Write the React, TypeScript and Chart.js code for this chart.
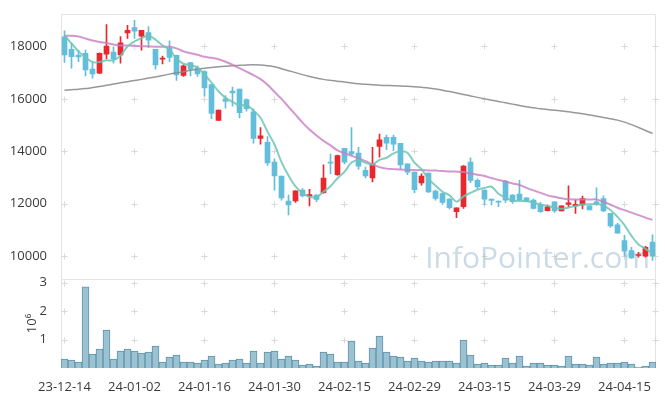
import React, { useEffect, useRef } from 'react';
import { Chart, registerables } from 'chart.js';

Chart.register(...registerables);

const dates = [
  '23-12-14', '23-12-15', '23-12-18', '23-12-19', '23-12-20', '23-12-21', '23-12-22', '23-12-26', '23-12-27', '23-12-28',
  '24-01-02', '24-01-03', '24-01-04', '24-01-05', '24-01-08', '24-01-09', '24-01-10', '24-01-11', '24-01-12', '24-01-15',
  '24-01-16', '24-01-17', '24-01-18', '24-01-19', '24-01-22', '24-01-23', '24-01-24', '24-01-25', '24-01-26', '24-01-29',
  '24-01-30', '24-01-31', '24-02-01', '24-02-02', '24-02-05', '24-02-06', '24-02-07', '24-02-08', '24-02-13', '24-02-14',
  '24-02-15', '24-02-16', '24-02-19', '24-02-20', '24-02-21', '24-02-22', '24-02-23', '24-02-26', '24-02-27', '24-02-28',
  '24-02-29', '24-03-04', '24-03-05', '24-03-06', '24-03-07', '24-03-08', '24-03-11', '24-03-12', '24-03-13', '24-03-14',
  '24-03-15', '24-03-18', '24-03-19', '24-03-20', '24-03-21', '24-03-22', '24-03-25', '24-03-26', '24-03-27', '24-03-28',
  '24-03-29', '24-04-01', '24-04-02', '24-04-03', '24-04-04', '24-04-05', '24-04-08', '24-04-09', '24-04-11', '24-04-12',
  '24-04-15', '24-04-16', '24-04-17', '24-04-18', '24-04-19',
];

const opens = [
  18367, 17888, 17673, 17736, 17133, 16980, 17710, 17786, 17673, 18517,
  18718, 18391, 18529, 17888, 17510, 17925, 17661, 16893, 17385, 17170,
  17045, 16541, 15182, 16000, 16302, 16377, 15975, 15510, 14491, 14340,
  13585, 13057, 12102, 12113, 12517, 12290, 12328, 12427, 13585, 13106,
  14113, 13987, 13937, 13271, 12981, 14189, 14529, 14529, 14302, 13522,
  13208, 12793, 13170, 12480, 12390, 12176, 11698, 11887, 13585, 12893,
  12517, 12176, 12101, 12868, 12329, 12366, 12227, 12139, 11974, 11736,
  12076, 11723, 11975, 11913, 11951, 11925, 12076, 12200, 11635, 11196,
  10591, 10214, 10025, 10000, 10541,
];

const highs = [
  18594, 18114, 17862, 17862, 17423, 17760, 18831, 17988, 18378, 18806,
  18994, 18617, 18755, 17888, 17636, 18215, 17673, 17296, 17385, 17258,
  17083, 16541, 15572, 16125, 16453, 16377, 16000, 15623, 14906, 14566,
  13710, 13057, 12329, 12491, 12578, 12555, 12351, 13484, 13899, 13861,
  14113, 14906, 14151, 13397, 14151, 14654, 14616, 14616, 14302, 13522,
  13208, 13144, 13170, 12517, 12415, 12201, 11849, 13459, 13748, 12955,
  12517, 12176, 12101, 12893, 12351, 12893, 12227, 12176, 12050, 11950,
  12076, 11925, 12680, 12139, 12290, 11925, 12604, 12302, 11635, 11258,
  10793, 10340, 10151, 10377, 10818,
];

const lows = [
  17386, 17170, 17423, 16880, 16793, 16960, 17535, 17359, 17359, 18303,
  18303, 17862, 17963, 17133, 17334, 17423, 16705, 16855, 16880, 16855,
  16102, 15246, 15182, 15648, 15723, 15270, 15535, 14315, 14277, 13459,
  12517, 12139, 11574, 12050, 12264, 11913, 12076, 12390, 13144, 13080,
  13522, 13861, 13309, 12981, 12830, 13774, 14063, 14025, 13309, 13107,
  12427, 12706, 12427, 12139, 11974, 11799, 11472, 11823, 12805, 12578,
  11951, 11951, 11887, 12050, 12012, 12101, 12101, 11799, 11673, 11723,
  11673, 11723, 11887, 11635, 11800, 11761, 11950, 11698, 11094, 10879,
  10000, 9912, 9962, 9962, 9838,
];

const closes = [
  17673, 17612, 17598, 17107, 16955, 17736, 18012, 17510, 18139, 18617,
  18580, 18617, 18240, 17296, 17560, 17586, 16918, 17258, 17133, 16955,
  16416, 15446, 15572, 15899, 16226, 15472, 15623, 14491, 14591, 13559,
  13057, 12227, 11951, 12491, 12302, 12350, 12162, 12981, 13547, 13836,
  13585, 13899, 13434, 13057, 13522, 14441, 14315, 14277, 13484, 13208,
  12540, 13057, 12453, 12201, 12050, 11849, 11849, 13434, 12893, 12642,
  12176, 12126, 12064, 12139, 12076, 12139, 12101, 11823, 11698, 11887,
  11723, 11925, 12038, 11975, 12202, 11761, 11975, 11723, 11159, 10879,
  10189, 9937, 10063, 10340, 10000,
];

const volumes = [
  315000, 280000, 210000, 2850000, 490000, 665000, 1330000, 315000, 595000, 665000,
  595000, 525000, 560000, 770000, 210000, 385000, 455000, 210000, 210000, 175000,
  280000, 420000, 140000, 175000, 280000, 315000, 175000, 595000, 175000, 560000,
  595000, 315000, 420000, 280000, 105000, 140000, 70000, 560000, 490000, 210000,
  210000, 945000, 245000, 175000, 700000, 1120000, 560000, 420000, 385000, 245000,
  350000, 245000, 210000, 245000, 245000, 245000, 175000, 980000, 455000, 140000,
  175000, 105000, 105000, 350000, 175000, 420000, 70000, 175000, 175000, 105000,
  105000, 70000, 420000, 140000, 140000, 105000, 385000, 140000, 175000, 175000,
  210000, 140000, 35000, 70000, 210000,
];

const ma5 = [
  18415, 18114, 17812, 17586, 17400, 17405, 17470, 17468, 17650, 18000,
  18190, 18310, 18420, 18260, 18040, 17880, 17540, 17340, 17290, 17190,
  16930, 16620, 16290, 16040, 15890, 15740, 15770, 15550, 15280, 14750,
  14260, 13590, 13080, 12660, 12410, 12265, 12250, 12455, 12670, 12975,
  13220, 13570, 13660, 13560, 13500, 13670, 13755, 13920, 14005, 13945,
  13565, 13315, 12950, 12690, 12460, 12320, 12080, 12280, 12415, 12535,
  12600, 12650, 12380, 12230, 12120, 12110, 12100, 12055, 11965, 11930,
  11845, 11810, 11855, 11910, 11970, 11980, 11990, 11925, 11765, 11500,
  11185, 10775, 10445, 10280, 10105,
];

const ma20 = [
  18404, 18404, 18378, 18303, 18227, 18170, 18133, 18076, 18038, 18038,
  18027, 18008, 18000, 17989, 17989, 17989, 17925, 17812, 17737, 17680,
  17604, 17567, 17510, 17416, 17303, 17170, 17038, 16906, 16755, 16540,
  16265, 16000, 15698, 15397, 15095, 14830, 14604, 14397, 14227, 14038,
  13925, 13830, 13736, 13623, 13491, 13397, 13340, 13321, 13302, 13295,
  13283, 13283, 13272, 13264, 13245, 13234, 13227, 13208, 13151, 13106,
  13057, 12981, 12906, 12849, 12774, 12717, 12604, 12510, 12415, 12321,
  12264, 12208, 12170, 12163, 12163, 12163, 12163, 12076, 11962, 11849,
  11755, 11660, 11566, 11472, 11385,
];

const ma60 = [
  16329, 16348, 16367, 16393, 16431, 16469, 16518, 16567, 16612, 16657,
  16699, 16744, 16793, 16838, 16888, 16944, 16993, 17038, 17095, 17133,
  17170, 17201, 17223, 17246, 17265, 17284, 17295, 17299, 17291, 17265,
  17227, 17152, 17076, 17001, 16925, 16857, 16793, 16744, 16706, 16672,
  16642, 16604, 16574, 16555, 16536, 16521, 16510, 16502, 16495, 16484,
  16465, 16442, 16416, 16378, 16329, 16280, 16227, 16167, 16114, 16057,
  16000, 15951, 15902, 15850, 15800, 15751, 15698, 15661, 15623, 15593,
  15567, 15540, 15510, 15472, 15434, 15385, 15340, 15291, 15246, 15189,
  15114, 15019, 14906, 14793, 14680,
];

const priceTicks = [10000, 12000, 14000, 16000, 18000];
const volumeTicks = [1000000, 2000000, 3000000];
const xTickStep = 10;

const UP = '#e8282d';
const DOWN = '#63bedb';
const TEXT = '#3a3a3a';
const FONT = '"Open Sans", "DejaVu Sans", sans-serif';

export default function App() {
  const canvasRef = useRef<HTMLCanvasElement | null>(null);

  useEffect(() => {
    const canvas = canvasRef.current;
    if (!canvas) return;
    const candleColors = opens.map((o, i) => (closes[i] >= o ? UP : DOWN));
    const bodies = opens.map((o, i) => [o, closes[i]]);
    const wicks = lows.map((l, i) => [l, highs[i]]);

    const decor = {
      id: 'decor',
      beforeDatasetsDraw(chart: any) {
        const { ctx } = chart;
        const xs = chart.scales.x;
        const yp = chart.scales.y;
        const yv = chart.scales.yv;
        ctx.save();
        // frame
        ctx.strokeStyle = '#e4e4e4';
        ctx.lineWidth = 1;
        const L = Math.round(xs.left) + 0.5;
        const R = Math.round(xs.right) - 0.5;
        const T = Math.round(yp.top) + 0.5;
        const M = Math.round(yv.top) + 0.5;
        const B = Math.round(yv.bottom);
        ctx.beginPath();
        ctx.moveTo(L, T); ctx.lineTo(R, T);
        ctx.moveTo(L, M); ctx.lineTo(R, M);
        ctx.moveTo(L, T); ctx.lineTo(L, B);
        ctx.moveTo(R, T); ctx.lineTo(R, B);
        ctx.stroke();
        // grid crosses
        const xPix: number[] = [];
        for (let i = 0; i < dates.length; i += xTickStep) xPix.push(xs.getPixelForValue(i));
        xPix.push(xs.right - 1);
        const yPix: number[] = [];
        priceTicks.forEach((v) => yPix.push(yp.getPixelForValue(v)));
        volumeTicks.forEach((v) => yPix.push(yv.getPixelForValue(v)));
        ctx.strokeStyle = '#d9d9d9';
        ctx.beginPath();
        xPix.forEach((px) => {
          yPix.forEach((py) => {
            const cx = Math.floor(px) + 0.5;
            const cy = Math.round(py) + 0.5;
            ctx.moveTo(cx - 3, cy); ctx.lineTo(cx + 3, cy);
            ctx.moveTo(cx, cy - 3); ctx.lineTo(cx, cy + 3);
          });
        });
        ctx.stroke();
        // watermark
        ctx.font = `30px ${FONT}`;
        ctx.fillStyle = 'rgba(160,190,210,0.55)';
        ctx.textAlign = 'right';
        ctx.textBaseline = 'alphabetic';
        ctx.fillText('InfoPointer.com', xs.right - 6, yp.bottom - 11);
        ctx.restore();
      },
    };

    const chart = new Chart(canvas, {
      type: 'bar',
      data: {
        labels: dates,
        datasets: [
          { type: 'line', label: 'MA5', data: ma5, yAxisID: 'y', borderColor: 'rgba(110,196,182,0.85)', borderWidth: 2, pointRadius: 0, tension: 0.3, order: 1 } as any,
          { type: 'line', label: 'MA20', data: ma20, yAxisID: 'y', borderColor: 'rgba(200,125,195,0.8)', borderWidth: 2, pointRadius: 0, tension: 0.3, order: 2 } as any,
          { type: 'line', label: 'MA60', data: ma60, yAxisID: 'y', borderColor: 'rgba(140,140,140,0.9)', borderWidth: 1.5, pointRadius: 0, tension: 0.3, order: 3 } as any,
          { type: 'bar', label: 'body', data: bodies, yAxisID: 'y', backgroundColor: candleColors, barThickness: 5, grouped: false, minBarLength: 1, order: 4 } as any,
          { type: 'bar', label: 'wick', data: wicks, yAxisID: 'y', backgroundColor: candleColors, barThickness: 1, grouped: false, order: 5 } as any,
          { type: 'bar', label: 'volume', data: volumes, yAxisID: 'yv', backgroundColor: '#9cc1d1', borderColor: '#5e94ae', borderWidth: 1, barPercentage: 1, categoryPercentage: 1, grouped: false, order: 6 } as any,
        ],
      },
      options: {
        animation: false,
        responsive: true,
        maintainAspectRatio: false,
        layout: { padding: { top: 10, right: 9, left: 0, bottom: 0 } },
        plugins: { legend: { display: false }, tooltip: { enabled: false } },
        scales: {
          x: {
            type: 'category',
            offset: true,
            grid: { display: false },
            border: { display: false },
            ticks: {
              autoSkip: false,
              maxRotation: 0,
              minRotation: 0,
              padding: 3,
              color: TEXT,
              font: { family: FONT, size: 13 },
              callback: (_v: any, i: number) => (i % xTickStep === 0 ? dates[i] : ''),
            },
            afterFit: (s: any) => { s.height = 28; },
          },
          yv: {
            type: 'linear',
            position: 'left',
            stack: 'panels',
            stackWeight: 90,
            weight: 0,
            min: 0,
            max: 3130000,
            grid: { display: false },
            border: { display: false },
            afterBuildTicks: (s: any) => { s.ticks = volumeTicks.map((v) => ({ value: v })); },
            ticks: { color: TEXT, font: { family: FONT, size: 13 }, padding: 6, callback: (v: any) => String(Number(v) / 1000000) },
            title: { display: true, text: '10⁶', color: TEXT, font: { family: FONT, size: 13 }, padding: { top: 24, bottom: 0 } },
            afterFit: (s: any) => { s.width = 61; },
          },
          y: {
            type: 'linear',
            position: 'left',
            stack: 'panels',
            stackWeight: 268,
            weight: 1,
            min: 9132,
            max: 19245,
            grid: { display: false },
            border: { display: false },
            afterBuildTicks: (s: any) => { s.ticks = priceTicks.map((v) => ({ value: v })); },
            ticks: { color: TEXT, font: { family: FONT, size: 13 }, padding: 6, callback: (v: any) => String(v) },
            afterFit: (s: any) => { s.width = 61; },
          },
        },
      },
      plugins: [decor],
    } as any);

    return () => chart.destroy();
  }, []);

  return (
    <div style={{ position: 'fixed', left: 0, top: 0, width: 665, height: 396, background: '#fff' }}>
      <canvas ref={canvasRef} />
    </div>
  );
}
